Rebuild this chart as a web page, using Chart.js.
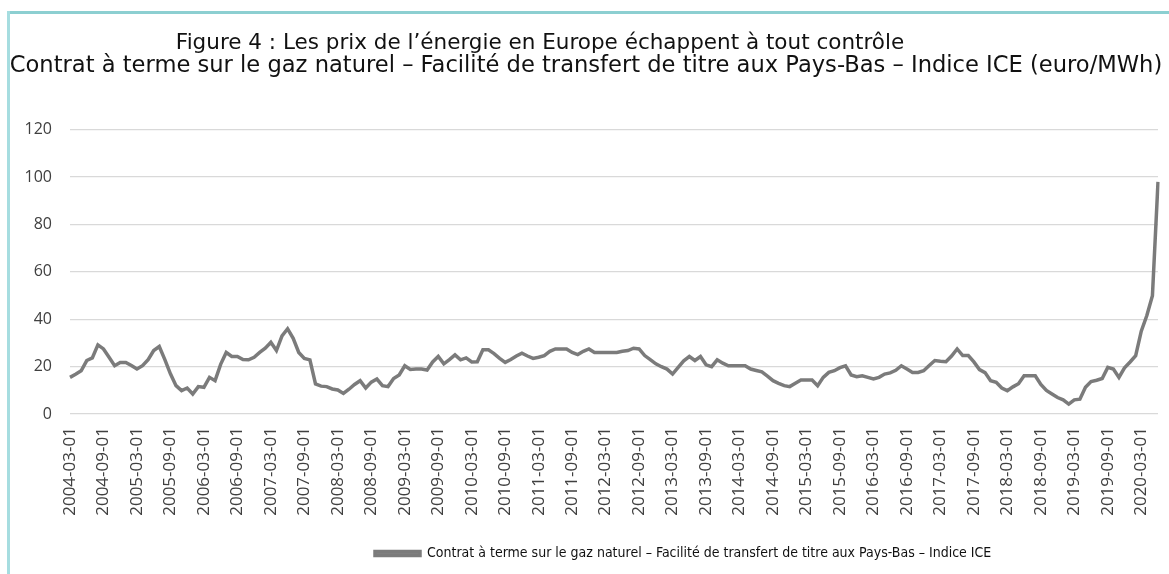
<!DOCTYPE html>
<html><head><meta charset="utf-8">
<script src="https://cdn.jsdelivr.net/npm/chart.js@4"></script>
<style>
html,body{margin:0;padding:0;background:#fff;}
#wrap{position:relative;width:1169px;height:574px;overflow:hidden;background:#fff;}
#frameTop{position:absolute;left:7px;top:11px;right:0;height:3px;background:#8ccfd1;}
#frameLeft{position:absolute;left:7px;top:11px;bottom:0;width:3px;background:#a6dde0;}
canvas{position:absolute;left:0;top:0;}
</style></head>
<body><div id="wrap"><canvas id="c" width="1169" height="574"></canvas><div id="frameTop"></div><div id="frameLeft"></div></div>
<script>
const titleText = "Figure 4 : Les prix de l\u2019énergie en Europe échappent à tout contrôle";
const subtitleText = "Contrat à terme sur le gaz naturel \u2013 Facilité de transfert de titre aux Pays-Bas \u2013 Indice ICE (euro/MWh)";
const seriesName = "Contrat à terme sur le gaz naturel \u2013 Facilité de transfert de titre aux Pays-Bas \u2013 Indice ICE";
const startYear = 2004, startMonth = 3;
const values = [
  15.5,16.8,18.3,22.6,23.7,29.2,27.5,24,20.4,21.8,21.8,20.5,
  19,20.4,23,26.8,28.5,23,17,12,9.9,11,8.5,11.6,
  11.3,15.5,14.1,21,26,24.3,24.3,23,22.9,24,26,27.8,
  30.3,26.8,33,36,32,26,23.5,22.9,12.7,11.8,11.6,10.6,
  10.2,8.7,10.5,12.5,14.1,11,13.5,14.8,12,11.6,15,16.5,
  20.4,18.8,19,19,18.6,22,24.3,21.2,23,25,22.9,23.7,
  22,22.1,27.1,27.1,25.5,23.5,21.8,23,24.5,25.7,24.5,23.5,
  24,24.7,26.5,27.5,27.5,27.5,26,25.1,26.5,27.5,26,26,
  26,26,26,26.5,26.8,27.8,27.5,24.7,23,21.2,20,19,
  16.9,19.7,22.5,24.3,22.6,24.3,20.8,20,22.9,21.5,20.4,20.4,
  20.4,20.4,19,18.4,17.8,16,14.1,13,12,11.6,13,14.4,
  14.4,14.4,12,15.5,17.6,18.3,19.6,20.4,16.5,15.8,16.2,15.5,
  14.8,15.5,16.9,17.4,18.5,20.4,19,17.6,17.6,18.3,20.5,22.6,
  22.3,22.1,24.5,27.5,24.7,24.7,22,18.8,17.5,14.1,13.4,11,
  9.9,11.5,12.8,16.2,16.2,16.2,12.5,10,8.5,7,6,4.2,
  6,6.3,11.3,13.7,14.3,15,19.7,19,15.5,19.5,22,24.7,
  35,41.6,50,98
];
const yMin = 0, yMax = 120, yStep = 20;
const tickLabels = [
  "2004-03-01","2004-09-01","2005-03-01","2005-09-01","2006-03-01","2006-09-01",
  "2007-03-01","2007-09-01","2008-03-01","2008-09-01","2009-03-01","2009-09-01",
  "2010-03-01","2010-09-01","2011-03-01","2011-09-01","2012-03-01","2012-09-01",
  "2013-03-01","2013-09-01","2014-03-01","2014-09-01","2015-03-01","2015-09-01",
  "2016-03-01","2016-09-01","2017-03-01","2017-09-01","2018-03-01","2018-09-01",
  "2019-03-01","2019-09-01","2020-03-01"
];
const categories = values.map((_, i) => {
  const m = startMonth - 1 + i;
  const y = startYear + Math.floor(m / 12);
  const mm = (m % 12) + 1;
  return y + "-" + String(mm).padStart(2, "0") + "-01";
});

const boxShift = {
  id: "boxShift",
  afterLayout(chart) {
    const lg = chart.legend;
    const dx = 367 - lg.left;
    lg.left += dx; lg.right += dx;
    const tb = chart.titleBlock;
    if (tb) { tb.left -= 39; tb.right -= 39; }
    const sb = chart.subtitleBlock || (chart.boxes || []).find(b => b.options && b.options.text === subtitleText);
    if (sb) { sb.left += 7; sb.right += 7; }
  }
};

const ctx = document.getElementById("c").getContext("2d");
new Chart(ctx, {
  type: "line",
  data: {
    labels: categories,
    datasets: [{
      label: seriesName,
      data: values,
      borderColor: "#7b7b7b",
      backgroundColor: "#858585",
      borderWidth: 3.5,
      pointRadius: 0,
      tension: 0,
      fill: false
    }]
  },
  plugins: [boxShift],
  options: {
    responsive: false,
    animation: false,
    layout: { padding: { left: 0, right: 11, top: 0, bottom: 3.6 } },
    plugins: {
      title: {
        display: true,
        text: titleText,
        color: "#111111",
        font: { family: "DejaVu Sans", size: 21.5, weight: "normal", lineHeight: 23 / 21.5 },
        padding: { top: 31.5, bottom: 0 }
      },
      subtitle: {
        display: true,
        text: subtitleText,
        color: "#111111",
        font: { family: "DejaVu Sans", size: 22.6, weight: "normal", lineHeight: 23 / 22.6 },
        padding: { top: 0, bottom: 52.2 }
      },
      legend: {
        position: "bottom",
        align: "start",
        labels: {
          boxWidth: 45, boxHeight: 4, color: "#111111",
          font: { family: "'Liberation Sans Narrow', 'DejaVu Sans Condensed', sans-serif", size: 14, lineHeight: 1.2 },
          padding: 8
        }
      },
      tooltip: { enabled: false }
    },
    scales: {
      x: {
        grid: { display: false, drawTicks: false },
        border: { display: false },
        afterFit: (s) => { s.height = 124.3; s.paddingLeft = 0; s.paddingRight = 0; },
        ticks: {
          autoSkip: false, maxRotation: 90, minRotation: 90, padding: 13,
          color: "#404040", font: { family: "Open Sans", size: 17 },
          callback: (v, i) => (i % 6 === 0 ? tickLabels[i / 6] : "")
        }
      },
      y: {
        min: yMin, max: yMax,
        afterFit: (s) => { s.width = 70; },
        ticks: { stepSize: yStep, color: "#404040", padding: 18, font: { family: "Open Sans", size: 16 } },
        grid: { color: "#d9d9d9", drawTicks: false, lineWidth: 1.3 },
        border: { display: false }
      }
    }
  }
});
</script>
</body></html>
